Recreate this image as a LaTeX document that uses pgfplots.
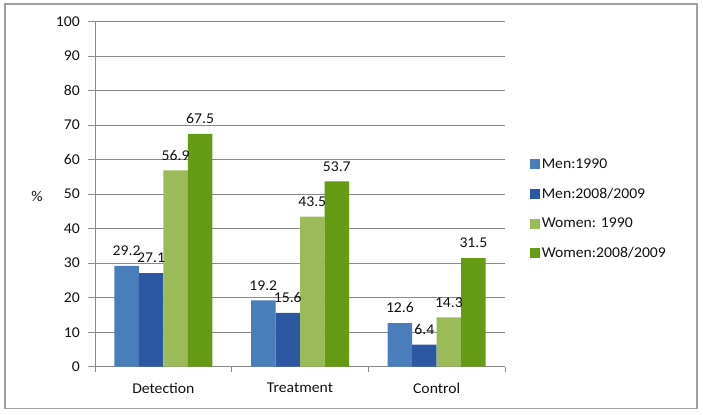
\documentclass[border=0pt]{standalone}
\usepackage{pgfplots}
\pgfplotsset{compat=1.18}
\usepackage{fontspec}
\setmainfont{Carlito}[FakeStretch=1.05]
\definecolor{cA}{HTML}{4A7EBB}
\definecolor{cB}{HTML}{2C58A3}
\definecolor{cC}{HTML}{9BBB59}
\definecolor{cD}{HTML}{649A14}
\definecolor{gridc}{HTML}{8A8A8A}
\definecolor{framec}{HTML}{A0A0A0}
\definecolor{txt}{HTML}{111111}
\pgfplotsset{sq legend/.style={legend image code/.code={\fill[##1] (0bp,-5bp) rectangle (10bp,5bp);}}}
\begin{document}
\fontsize{15}{17}\selectfont
\begin{tikzpicture}[x=1bp,y=1bp]
\path[use as bounding box] (0,0) rectangle (703,414);
\draw[color=framec, line width=1.2bp] (5,5.5) rectangle (697,410);
\begin{axis}[
  at={(95bp,47.3bp)}, anchor=south west,
  scale only axis, width=410bp, height=345bp,
  ybar=0pt, bar width=24.5bp,
  xmin=-0.5, xmax=2.5, ymin=0, ymax=100,
  ytick={0,10,...,100},
  xtick={0,1,2}, xticklabels={Detection,Treatment,Control},
  minor xtick={-0.5,0.5,1.5,2.5},
  axis lines*=left,
  axis line style={gridc, line width=0.8bp},
  ymajorgrids, grid style={gridc, line width=0.8bp},
  tick align=outside,
  major tick length=7bp, minor tick length=5bp,
  every major x tick/.style={draw=none},
  tick style={gridc, line width=0.8bp},
  /pgf/number format/assume math mode=true,
  ticklabel style={font=\fontsize{15}{17}\selectfont, text=txt},
  yticklabel style={xshift=-3bp},
  xticklabel style={yshift=-4bp},
  ylabel={\%},
  ylabel style={rotate=-90, at={(axis description cs:0,0.5)}, anchor=center, xshift=-58bp, yshift=-2bp, font=\fontsize{15}{17}\selectfont, text=txt},
  nodes near coords,
  every node near coord/.append style={font=\fontsize{15}{17}\selectfont, text=txt, yshift=5bp},
  nodes near coords style={/pgf/number format/.cd, fixed, fixed zerofill, precision=1, assume math mode=true},
  legend style={at={(axis description cs:1.06,0.61)}, anchor=north west, draw=none, fill=none,
    row sep=13.3bp, font=\fontsize{15}{17}\selectfont, text=txt, inner sep=0pt},
  legend cell align=left,
]
\addplot[fill=cA, draw=none, sq legend] coordinates {(0,29.2) (1,19.2) (2,12.6)};
\addplot[fill=cB, draw=none, sq legend] coordinates {(0,27.1) (1,15.6) (2,6.4)};
\addplot[fill=cC, draw=none, sq legend] coordinates {(0,56.9) (1,43.5) (2,14.3)};
\addplot[fill=cD, draw=none, sq legend] coordinates {(0,67.5) (1,53.7) (2,31.5)};
\legend{Men:1990, Men:2008/2009, Women: 1990, Women:2008/2009}
\end{axis}
\end{tikzpicture}
\end{document}
